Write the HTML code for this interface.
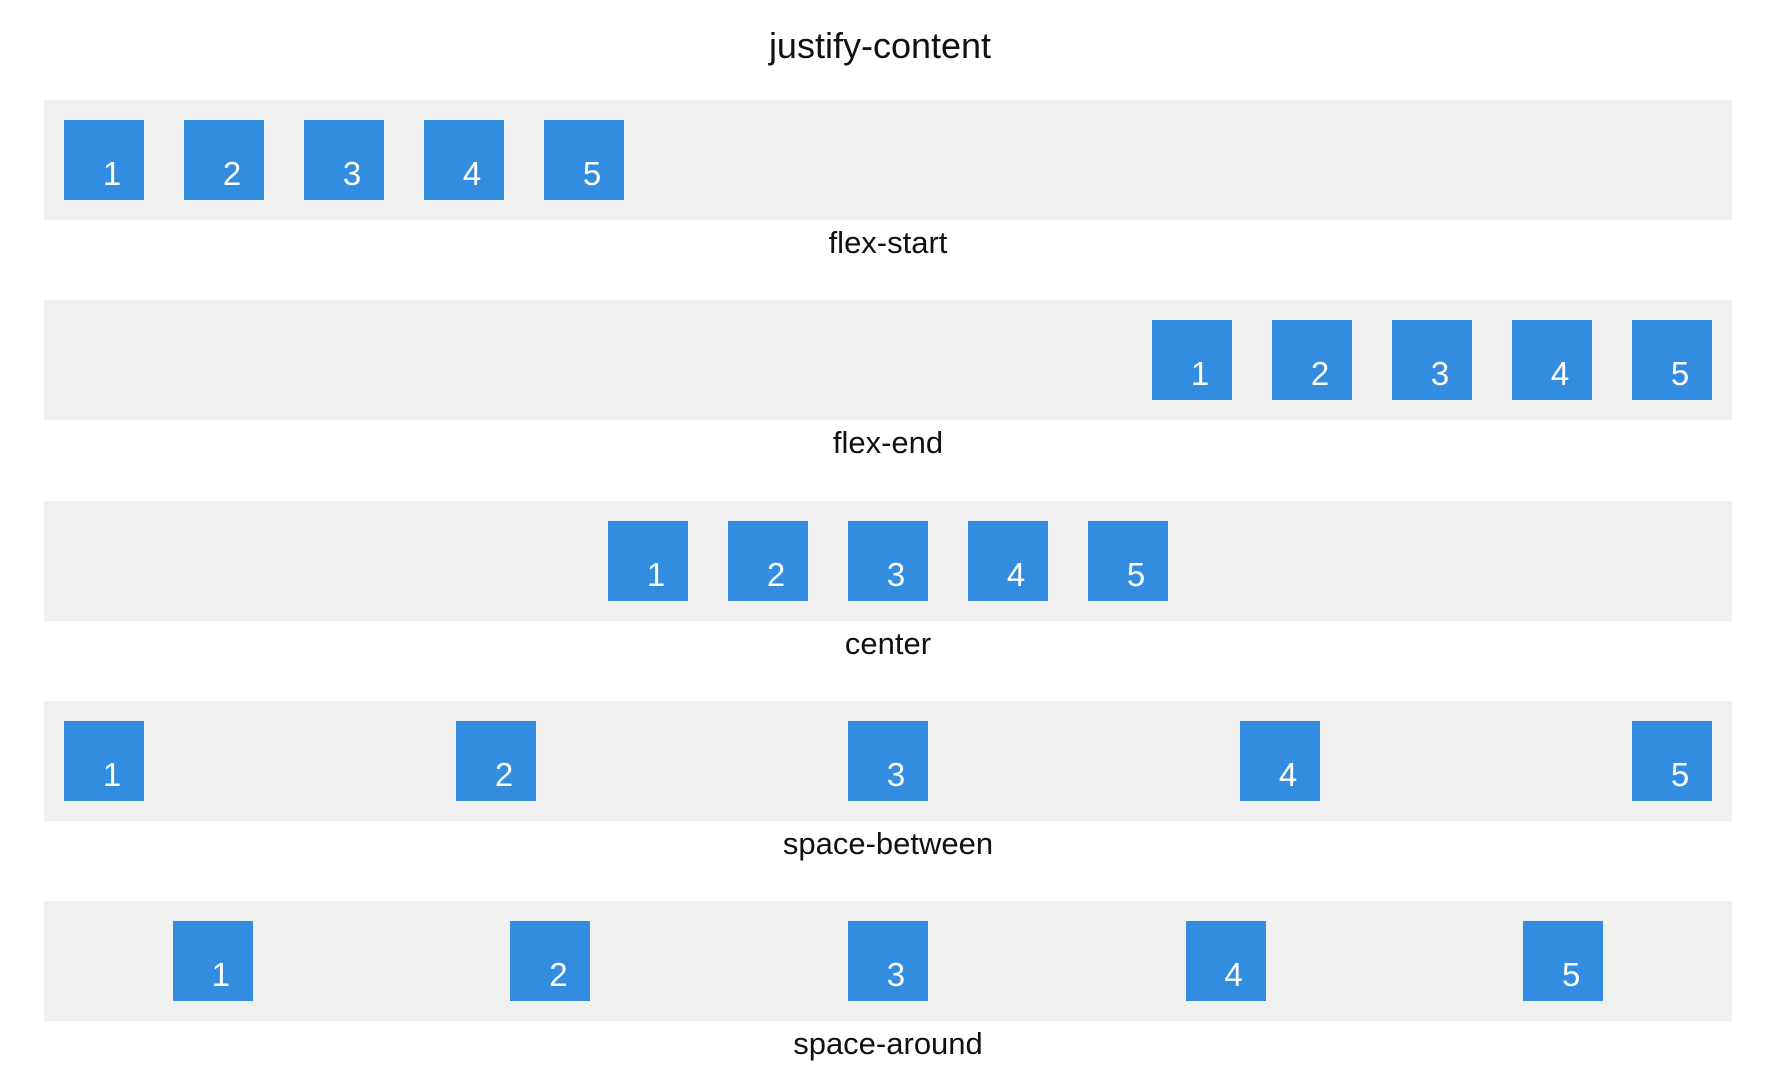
<!DOCTYPE html>
<html><head><meta charset="utf-8"><style>
body{margin:0;width:1780px;height:1084px;background:#fff;font-family:"Liberation Sans",sans-serif;position:relative;overflow:hidden}
.title{position:absolute;left:-10px;width:1780px;top:26px;text-align:center;font-size:36px;color:#111;line-height:40px}
.row{position:absolute;left:44px;width:1688px;height:120px;background:#f0f0f0;display:flex}
.box{width:80px;height:80px;margin:20px;background:#328de0;position:relative;flex:none}
.box span{position:absolute;left:0;width:96px;text-align:center;bottom:14px;font-size:33px;line-height:25px;color:#fff}
.lbl{position:absolute;left:-2px;width:1780px;text-align:center;font-size:31px;color:#111;line-height:36px}
</style></head><body>
<div class="title">justify-content</div>
<script>
const modes=["flex-start","flex-end","center","space-between","space-around"];
const items=["1","2","3","4","5"];
modes.forEach((m,k)=>{
  const top=100+200.3*k;
  const row=document.createElement('div');
  row.className='row';
  
  
  row.style.top=top+'px';
  row.style.justifyContent=m;
  items.forEach(t=>{
    const b=document.createElement('div');
    b.className='box';
    
    
    const s=document.createElement('span');s.textContent=t;b.appendChild(s);
    row.appendChild(b);
  });
  document.body.appendChild(row);
  const l=document.createElement('div');
  l.className='lbl';
  
  
  l.style.top=(top+125)+'px';
  l.textContent=m;
  document.body.appendChild(l);
});
</script>
</body></html>
